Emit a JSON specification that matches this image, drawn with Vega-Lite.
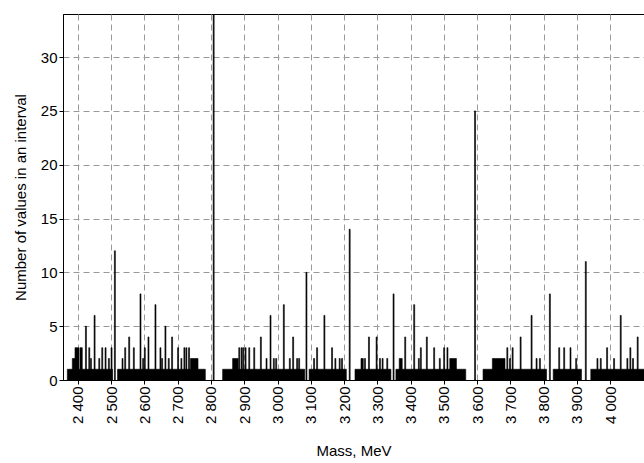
{
  "$schema": "https://vega.github.io/schema/vega-lite/v6.json",
  "width": 581,
  "height": 366,
  "autosize": "none",
  "padding": {"left": 63, "top": 14, "right": 0, "bottom": 83},
  "background": "white",
  "data": {
    "values": [
      {"start": 2368, "end": 2504, "count": 1},
      {"start": 2519, "end": 2783, "count": 1},
      {"start": 2383, "end": 2391, "count": 2},
      {"start": 2391, "end": 2403, "count": 3},
      {"start": 2406, "end": 2413, "count": 3},
      {"start": 2422.5, "end": 2425.5, "count": 5},
      {"start": 2432.5, "end": 2435.5, "count": 3},
      {"start": 2437.5, "end": 2440.5, "count": 2},
      {"start": 2448.5, "end": 2451.5, "count": 6},
      {"start": 2462.5, "end": 2465.5, "count": 2},
      {"start": 2471.5, "end": 2474.5, "count": 3},
      {"start": 2481.5, "end": 2484.5, "count": 3},
      {"start": 2491.5, "end": 2494.5, "count": 2},
      {"start": 2499.5, "end": 2502.5, "count": 3},
      {"start": 2509.5, "end": 2512.5, "count": 12},
      {"start": 2532.5, "end": 2535.5, "count": 2},
      {"start": 2540.5, "end": 2543.5, "count": 3},
      {"start": 2552.5, "end": 2555.5, "count": 4},
      {"start": 2566.5, "end": 2569.5, "count": 3},
      {"start": 2586.5, "end": 2589.5, "count": 8},
      {"start": 2594.5, "end": 2597.5, "count": 2},
      {"start": 2599.5, "end": 2602.5, "count": 3},
      {"start": 2610.5, "end": 2613.5, "count": 4},
      {"start": 2631.5, "end": 2634.5, "count": 7},
      {"start": 2646.5, "end": 2649.5, "count": 3},
      {"start": 2651.5, "end": 2654.5, "count": 2},
      {"start": 2661.5, "end": 2664.5, "count": 5},
      {"start": 2671.5, "end": 2674.5, "count": 2},
      {"start": 2681.5, "end": 2684.5, "count": 4},
      {"start": 2699.5, "end": 2702.5, "count": 3},
      {"start": 2709.5, "end": 2712.5, "count": 2},
      {"start": 2718.5, "end": 2721.5, "count": 3},
      {"start": 2724.5, "end": 2727.5, "count": 3},
      {"start": 2732.5, "end": 2735.5, "count": 3},
      {"start": 2738, "end": 2761, "count": 2},
      {"start": 2806.5, "end": 2809.5, "count": 40},
      {"start": 2835, "end": 3082, "count": 1},
      {"start": 3095, "end": 3207, "count": 1},
      {"start": 2865, "end": 2882, "count": 2},
      {"start": 2883.5, "end": 2886.5, "count": 3},
      {"start": 2890.5, "end": 2893.5, "count": 3},
      {"start": 2895.5, "end": 2898.5, "count": 3},
      {"start": 2902.5, "end": 2905.5, "count": 3},
      {"start": 2913.5, "end": 2916.5, "count": 3},
      {"start": 2928.5, "end": 2931.5, "count": 3},
      {"start": 2948.5, "end": 2951.5, "count": 4},
      {"start": 2965.5, "end": 2968.5, "count": 2},
      {"start": 2977.5, "end": 2980.5, "count": 6},
      {"start": 2987.5, "end": 2990.5, "count": 2},
      {"start": 2994.5, "end": 2997.5, "count": 2},
      {"start": 3017.5, "end": 3020.5, "count": 7},
      {"start": 3035.5, "end": 3038.5, "count": 2},
      {"start": 3045.5, "end": 3048.5, "count": 4},
      {"start": 3057.5, "end": 3060.5, "count": 2},
      {"start": 3063.5, "end": 3066.5, "count": 2},
      {"start": 3085.5, "end": 3088.5, "count": 10},
      {"start": 3108.5, "end": 3111.5, "count": 2},
      {"start": 3117.5, "end": 3120.5, "count": 3},
      {"start": 3139.5, "end": 3142.5, "count": 6},
      {"start": 3162.5, "end": 3165.5, "count": 3},
      {"start": 3172.5, "end": 3175.5, "count": 2},
      {"start": 3185.5, "end": 3188.5, "count": 2},
      {"start": 3192.5, "end": 3195.5, "count": 2},
      {"start": 3215.5, "end": 3218.5, "count": 14},
      {"start": 3233, "end": 3341, "count": 1},
      {"start": 3356, "end": 3566, "count": 1},
      {"start": 3251, "end": 3258, "count": 2},
      {"start": 3261.5, "end": 3264.5, "count": 2},
      {"start": 3273.5, "end": 3276.5, "count": 4},
      {"start": 3296.5, "end": 3299.5, "count": 4},
      {"start": 3306.5, "end": 3309.5, "count": 2},
      {"start": 3314.5, "end": 3317.5, "count": 2},
      {"start": 3328.5, "end": 3331.5, "count": 2},
      {"start": 3347.5, "end": 3350.5, "count": 8},
      {"start": 3366, "end": 3375, "count": 2},
      {"start": 3382.5, "end": 3385.5, "count": 4},
      {"start": 3409.5, "end": 3412.5, "count": 7},
      {"start": 3423.5, "end": 3426.5, "count": 2},
      {"start": 3429.5, "end": 3432.5, "count": 3},
      {"start": 3447.5, "end": 3450.5, "count": 4},
      {"start": 3469.5, "end": 3472.5, "count": 3},
      {"start": 3486.5, "end": 3489.5, "count": 2},
      {"start": 3499.5, "end": 3502.5, "count": 3},
      {"start": 3509.5, "end": 3512.5, "count": 3},
      {"start": 3518, "end": 3538, "count": 2},
      {"start": 3592.5, "end": 3595.5, "count": 25},
      {"start": 3618, "end": 3809, "count": 1},
      {"start": 3829, "end": 3914, "count": 1},
      {"start": 3942, "end": 4110, "count": 1},
      {"start": 3646, "end": 3684, "count": 2},
      {"start": 3689.5, "end": 3692.5, "count": 3},
      {"start": 3697.5, "end": 3700.5, "count": 2},
      {"start": 3705.5, "end": 3708.5, "count": 3},
      {"start": 3729.5, "end": 3732.5, "count": 4},
      {"start": 3762.5, "end": 3765.5, "count": 6},
      {"start": 3777.5, "end": 3780.5, "count": 2},
      {"start": 3787.5, "end": 3790.5, "count": 2},
      {"start": 3817.5, "end": 3820.5, "count": 8},
      {"start": 3845.5, "end": 3848.5, "count": 3},
      {"start": 3860.5, "end": 3863.5, "count": 3},
      {"start": 3879.5, "end": 3882.5, "count": 3},
      {"start": 3896.5, "end": 3899.5, "count": 2},
      {"start": 3925.5, "end": 3928.5, "count": 11},
      {"start": 3960.5, "end": 3963.5, "count": 2},
      {"start": 3970.5, "end": 3973.5, "count": 2},
      {"start": 3989.5, "end": 3992.5, "count": 3},
      {"start": 4010.5, "end": 4013.5, "count": 2},
      {"start": 4030.5, "end": 4033.5, "count": 6},
      {"start": 4050.5, "end": 4053.5, "count": 2},
      {"start": 4059.5, "end": 4062.5, "count": 3},
      {"start": 4067.5, "end": 4070.5, "count": 2},
      {"start": 4081.5, "end": 4084.5, "count": 4}
    ]
  },
  "mark": {"type": "rect", "color": "black", "stroke": "black", "strokeWidth": 0.6, "clip": true},
  "encoding": {
    "x": {
      "field": "start",
      "type": "quantitative",
      "scale": {"domain": [2355, 4102], "nice": false, "zero": false},
      "axis": {
        "values": [2400, 2500, 2600, 2700, 2800, 2900, 3000, 3100, 3200, 3300, 3400, 3500, 3600, 3700, 3800, 3900, 4000],
        "labelExpr": "replace(format(datum.value, ','), ',', ' ')",
        "labelAngle": -90,
        "labelAlign": "right",
        "labelBaseline": "middle",
        "title": "Mass, MeV",
        "titlePadding": 20
      }
    },
    "x2": {"field": "end"},
    "y": {
      "field": "count",
      "type": "quantitative",
      "scale": {"domain": [0, 34], "nice": false},
      "axis": {
        "values": [0, 5, 10, 15, 20, 25, 30],
        "title": "Number of values in an interval",
        "titlePadding": 12
      }
    },
    "y2": {"datum": 0}
  },
  "config": {
    "font": "Liberation Sans",
    "view": {"stroke": "black", "strokeWidth": 1},
    "axis": {
      "labelFont": "Liberation Sans",
      "titleFont": "Liberation Sans",
      "labelFontSize": 15,
      "titleFontSize": 15,
      "titleFontWeight": "normal",
      "labelColor": "black",
      "titleColor": "black",
      "domainColor": "black",
      "tickColor": "black",
      "tickSize": 4,
      "grid": true,
      "gridColor": "#999999",
      "gridDash": [6, 4],
      "gridOpacity": 1
    }
  }
}
